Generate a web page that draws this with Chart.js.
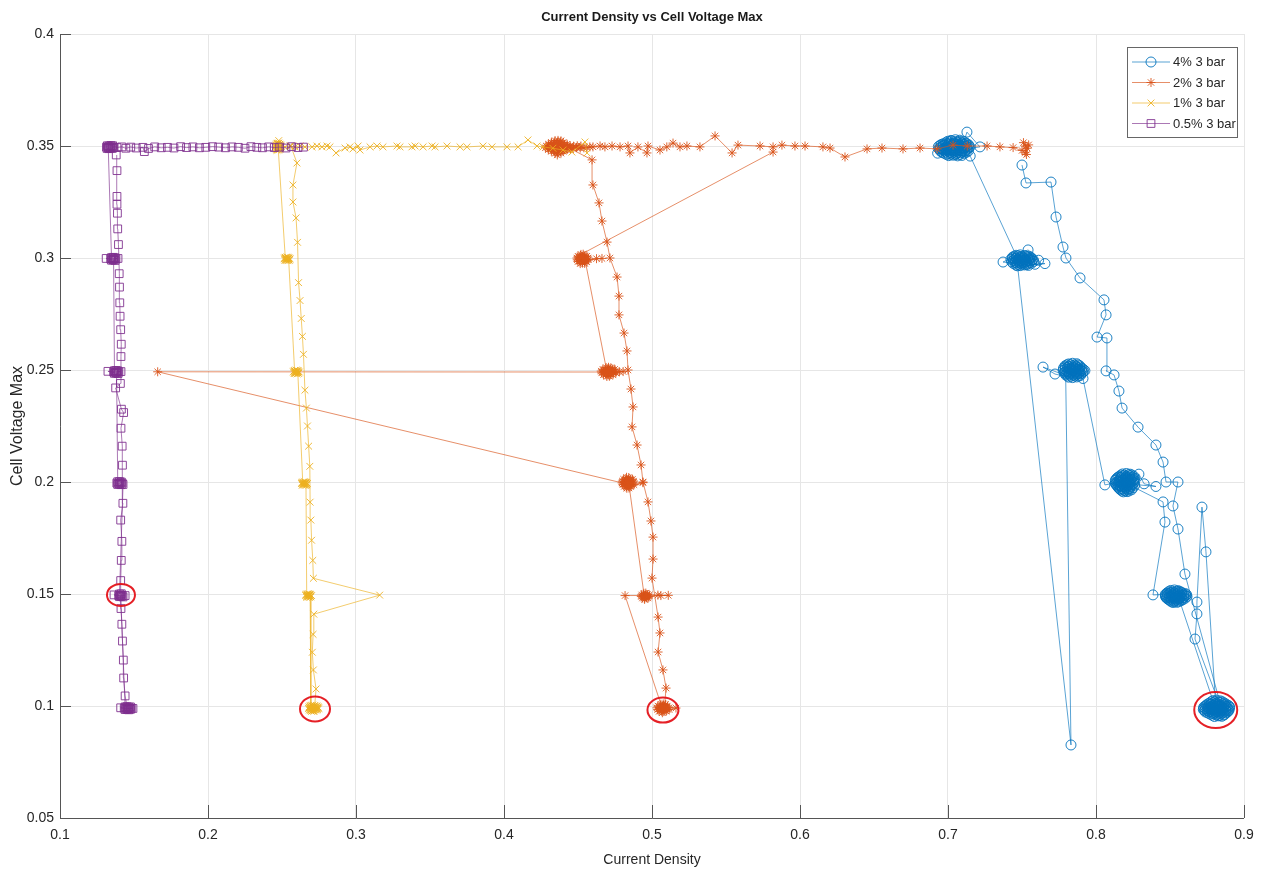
<!DOCTYPE html>
<html>
<head>
<meta charset="utf-8">
<title>Current Density vs Cell Voltage Max</title>
<script src="https://cdn.jsdelivr.net/npm/chart.js@4.4.1/dist/chart.umd.min.js"></script>
<style>
  html, body { margin: 0; padding: 0; background: #ffffff; }
  #wrap { position: relative; width: 1273px; height: 871px; }
</style>
</head>
<body>
<div id="wrap"><canvas id="c" width="1273" height="871"></canvas></div>
<script>
// Each point: [current density, cell voltage max], in the order it was logged.

const seriesLabels = ['4% 3 bar', '2% 3 bar', '1% 3 bar', '0.5% 3 bar'];

const xTickValues = [0.1, 0.2, 0.3, 0.4, 0.5, 0.6, 0.7, 0.8, 0.9];
const xTickLabels = ['0.1', '0.2', '0.3', '0.4', '0.5', '0.6', '0.7', '0.8', '0.9'];
const yTickValues = [0.05, 0.1, 0.15, 0.2, 0.25, 0.3, 0.35, 0.4];
const yTickLabels = ['0.05', '0.1', '0.15', '0.2', '0.25', '0.3', '0.35', '0.4'];

// 4% 3 bar
const run4 = [
  // hold at 0.35
  [0.6985,0.3515],[0.7010,0.3518],[0.7038,0.3514],[0.7066,0.3517],[0.7094,0.3515],[0.7120,0.3513],
  [0.7138,0.3506],[0.7110,0.3508],[0.7083,0.3505],[0.7057,0.3509],[0.7030,0.3506],[0.7005,0.3508],[0.6980,0.3505],[0.6955,0.3507],
  [0.6935,0.3497],[0.6962,0.3499],[0.6990,0.3496],[0.7016,0.3498],[0.7043,0.3495],[0.7070,0.3498],[0.7097,0.3496],[0.7125,0.3499],[0.7148,0.3496],
  [0.7132,0.3487],[0.7104,0.3489],[0.7077,0.3486],[0.7050,0.3488],[0.7022,0.3485],[0.6995,0.3488],[0.6968,0.3486],[0.6940,0.3488],
  [0.6950,0.3477],[0.6977,0.3479],[0.7004,0.3476],[0.7031,0.3478],[0.7058,0.3475],[0.7085,0.3478],[0.7112,0.3476],[0.7138,0.3478],
  [0.7110,0.3467],[0.7083,0.3469],[0.7055,0.3466],[0.7028,0.3468],[0.7000,0.3465],[0.6972,0.3468],
  [0.7005,0.3457],[0.7035,0.3459],[0.7065,0.3456],[0.7095,0.3458],
  [0.7080,0.3526],[0.7050,0.3528],[0.7020,0.3525],
  [0.6998,0.3521],[0.7024,0.3522],[0.7052,0.3520],[0.7080,0.3521],[0.7107,0.3520],
  [0.7124,0.3511],[0.7096,0.3512],[0.7070,0.3510],[0.7044,0.3512],[0.7018,0.3510],[0.6993,0.3511],[0.6968,0.3510],
  [0.6945,0.3502],[0.6970,0.3503],[0.6997,0.3501],[0.7024,0.3503],[0.7050,0.3501],[0.7077,0.3503],[0.7111,0.3501],[0.7137,0.3502],
  [0.7140,0.3492],[0.7111,0.3493],[0.7084,0.3491],[0.7057,0.3493],[0.7030,0.3491],[0.7003,0.3493],[0.6976,0.3491],[0.6948,0.3492],
  [0.6945,0.3482],[0.6963,0.3483],[0.6990,0.3481],[0.7017,0.3483],[0.7044,0.3481],[0.7071,0.3483],[0.7098,0.3481],[0.7125,0.3482],
  [0.7124,0.3472],[0.7097,0.3473],[0.7069,0.3471],[0.7042,0.3473],[0.7014,0.3471],[0.6986,0.3473],[0.6960,0.3472],
  [0.6990,0.3462],[0.7020,0.3463],[0.7050,0.3461],[0.7080,0.3462],
  [0.7128,0.3562],[0.7216,0.3496],[0.6930,0.3468],[0.7150,0.3455],
  // hold at 0.30
  [0.7460,0.3012],[0.7488,0.3014],[0.7516,0.3011],
  [0.7560,0.3003],[0.7535,0.3005],[0.7510,0.3002],[0.7485,0.3004],[0.7460,0.3001],[0.7435,0.3003],
  [0.7425,0.2994],[0.7450,0.2996],[0.7475,0.2993],[0.7500,0.2995],[0.7525,0.2992],[0.7550,0.2995],[0.7575,0.2993],
  [0.7580,0.2985],[0.7555,0.2987],[0.7530,0.2984],[0.7505,0.2986],[0.7480,0.2983],[0.7455,0.2986],[0.7430,0.2984],
  [0.7440,0.2976],[0.7465,0.2978],[0.7490,0.2975],[0.7515,0.2977],[0.7540,0.2974],[0.7565,0.2977],
  [0.7544,0.2967],[0.7516,0.2969],[0.7488,0.2966],[0.7460,0.2968],
  [0.7447,0.3008],[0.7473,0.3009],[0.7498,0.3007],[0.7523,0.3009],[0.7548,0.3008],
  [0.7563,0.2999],[0.7538,0.3000],[0.7512,0.2998],[0.7487,0.3000],[0.7462,0.2998],[0.7437,0.2999],
  [0.7442,0.2990],[0.7467,0.2991],[0.7492,0.2989],[0.7518,0.2991],[0.7543,0.2989],[0.7568,0.2990],
  [0.7553,0.2980],[0.7528,0.2981],[0.7503,0.2979],[0.7478,0.2981],[0.7452,0.2980],
  [0.7474,0.2971],[0.7502,0.2972],[0.7530,0.2970],
  [0.7372,0.2982],[0.7541,0.3036],[0.7612,0.2990],[0.7588,0.2972],[0.7655,0.2975],[0.7470,0.2965],
  [0.7831,0.0826],
  // hold at 0.25
  [0.7795,0.2478],[0.7820,0.2480],[0.7845,0.2477],[0.7870,0.2479],[0.7895,0.2476],
  [0.7910,0.2488],[0.7885,0.2486],[0.7860,0.2489],[0.7835,0.2487],[0.7810,0.2490],[0.7785,0.2488],
  [0.7778,0.2498],[0.7803,0.2496],[0.7828,0.2499],[0.7853,0.2497],[0.7878,0.2500],[0.7903,0.2498],[0.7925,0.2497],
  [0.7905,0.2508],[0.7880,0.2506],[0.7855,0.2509],[0.7830,0.2507],[0.7805,0.2510],[0.7780,0.2508],
  [0.7790,0.2518],[0.7815,0.2516],[0.7840,0.2519],[0.7865,0.2517],[0.7890,0.2519],
  [0.7870,0.2528],[0.7842,0.2530],[0.7815,0.2527],
  [0.7803,0.2523],[0.7828,0.2524],[0.7855,0.2522],[0.7878,0.2523],
  [0.7893,0.2513],[0.7868,0.2514],[0.7843,0.2512],[0.7818,0.2514],[0.7792,0.2513],
  [0.7790,0.2503],[0.7816,0.2504],[0.7841,0.2502],[0.7866,0.2504],[0.7891,0.2502],[0.7914,0.2503],
  [0.7915,0.2493],[0.7891,0.2494],[0.7866,0.2492],[0.7841,0.2494],[0.7816,0.2492],[0.7792,0.2493],
  [0.7798,0.2483],[0.7822,0.2484],[0.7848,0.2482],[0.7872,0.2484],[0.7898,0.2483],
  [0.7883,0.2473],[0.7858,0.2474],[0.7832,0.2472],[0.7808,0.2473],
  [0.7642,0.2513],[0.7723,0.2482],[0.7815,0.2468],[0.7842,0.2466],[0.7870,0.2469],[0.7912,0.2462],
  // hold at 0.20
  [0.8060,0.1987],
  [0.8130,0.1996],[0.8155,0.1998],[0.8180,0.1995],[0.8205,0.1997],[0.8230,0.1994],[0.8255,0.1997],
  [0.8262,0.1986],[0.8238,0.1988],[0.8213,0.1985],[0.8188,0.1987],[0.8163,0.1984],[0.8138,0.1987],
  [0.8150,0.1976],[0.8175,0.1978],[0.8200,0.1975],[0.8225,0.1977],[0.8250,0.1974],
  [0.8240,0.1965],[0.8215,0.1967],[0.8190,0.1964],[0.8165,0.1966],
  [0.8185,0.1956],[0.8210,0.1957],
  [0.8255,0.2006],[0.8230,0.2008],[0.8205,0.2005],[0.8180,0.2007],[0.8155,0.2004],[0.8130,0.2007],
  [0.8140,0.2016],[0.8165,0.2018],[0.8190,0.2015],[0.8215,0.2017],[0.8240,0.2014],[0.8262,0.2017],
  [0.8255,0.2026],[0.8230,0.2028],[0.8205,0.2025],[0.8180,0.2027],[0.8155,0.2024],
  [0.8180,0.2036],[0.8205,0.2038],[0.8230,0.2035],
  [0.8243,0.2031],[0.8218,0.2032],[0.8193,0.2030],[0.8168,0.2031],
  [0.8148,0.2021],[0.8172,0.2022],[0.8198,0.2020],[0.8222,0.2022],[0.8248,0.2021],
  [0.8258,0.2011],[0.8235,0.2012],[0.8210,0.2010],[0.8185,0.2012],[0.8160,0.2010],[0.8135,0.2011],
  [0.8142,0.2001],[0.8168,0.2002],[0.8193,0.2000],[0.8218,0.2002],[0.8243,0.2001],
  [0.8250,0.1991],[0.8225,0.1992],[0.8200,0.1990],[0.8175,0.1992],[0.8150,0.1990],[0.8133,0.1991],
  [0.8145,0.1981],[0.8162,0.1982],[0.8188,0.1980],[0.8212,0.1982],[0.8238,0.1981],
  [0.8228,0.1970],[0.8203,0.1971],[0.8178,0.1969],[0.8158,0.1970],
  [0.8175,0.1960],[0.8198,0.1961],[0.8222,0.1960],
  [0.8290,0.2035],[0.8325,0.1992],[0.8405,0.1980],[0.8210,0.1992],[0.8453,0.1911],[0.8466,0.1821],
  // hold at 0.15
  [0.8385,0.1496],
  [0.8468,0.1498],[0.8493,0.1500],[0.8518,0.1497],[0.8543,0.1499],[0.8568,0.1496],[0.8593,0.1499],[0.8612,0.1497],
  [0.8615,0.1489],[0.8595,0.1491],[0.8570,0.1488],[0.8545,0.1490],[0.8520,0.1487],[0.8495,0.1490],[0.8470,0.1488],
  [0.8480,0.1480],[0.8505,0.1482],[0.8530,0.1479],[0.8555,0.1481],[0.8580,0.1478],[0.8603,0.1481],
  [0.8575,0.1470],[0.8550,0.1472],[0.8525,0.1469],[0.8500,0.1471],
  [0.8520,0.1462],[0.8545,0.1463],
  [0.8580,0.1507],[0.8555,0.1509],[0.8530,0.1506],[0.8505,0.1508],[0.8480,0.1505],
  [0.8505,0.1516],[0.8530,0.1518],[0.8555,0.1515],
  [0.8568,0.1511],[0.8543,0.1512],[0.8518,0.1510],[0.8492,0.1511],
  [0.8480,0.1502],[0.8505,0.1503],[0.8530,0.1501],[0.8555,0.1503],[0.8580,0.1501],[0.8603,0.1502],
  [0.8605,0.1493],[0.8582,0.1494],[0.8557,0.1492],[0.8532,0.1494],[0.8507,0.1492],[0.8482,0.1494],[0.8470,0.1493],
  [0.8475,0.1484],[0.8492,0.1485],[0.8517,0.1483],[0.8542,0.1485],[0.8567,0.1483],[0.8592,0.1484],
  [0.8588,0.1475],[0.8562,0.1476],[0.8538,0.1474],[0.8512,0.1476],[0.8490,0.1475],
  [0.8508,0.1466],[0.8532,0.1467],[0.8558,0.1465],
  [0.8560,0.1480],
  // hold at 0.10
  [0.8790,0.1024],[0.8815,0.1026],[0.8840,0.1023],
  [0.8865,0.1014],[0.8840,0.1016],[0.8815,0.1013],[0.8790,0.1015],[0.8765,0.1012],
  [0.8745,0.1004],[0.8770,0.1006],[0.8795,0.1003],[0.8820,0.1005],[0.8845,0.1002],[0.8870,0.1005],[0.8893,0.1003],
  [0.8903,0.0994],[0.8878,0.0996],[0.8853,0.0993],[0.8828,0.0995],[0.8803,0.0992],[0.8778,0.0995],[0.8753,0.0993],[0.8728,0.0995],
  [0.8725,0.0984],[0.8750,0.0986],[0.8775,0.0983],[0.8800,0.0985],[0.8825,0.0982],[0.8850,0.0985],[0.8875,0.0983],[0.8900,0.0985],
  [0.8890,0.0974],[0.8865,0.0976],[0.8840,0.0973],[0.8815,0.0975],[0.8790,0.0972],[0.8765,0.0975],[0.8740,0.0973],
  [0.8770,0.0964],[0.8795,0.0966],[0.8820,0.0963],[0.8845,0.0965],[0.8870,0.0962],
  [0.8850,0.0954],[0.8825,0.0956],[0.8800,0.0953],
  [0.8778,0.1019],[0.8803,0.1020],[0.8828,0.1018],[0.8853,0.1019],
  [0.8878,0.1009],[0.8853,0.1010],[0.8828,0.1008],[0.8803,0.1010],[0.8778,0.1008],[0.8755,0.1009],
  [0.8737,0.0999],[0.8762,0.1000],[0.8787,0.0998],[0.8812,0.1000],[0.8837,0.0998],[0.8862,0.1000],[0.8885,0.0998],[0.8900,0.0999],
  [0.8888,0.0989],[0.8865,0.0990],[0.8840,0.0988],[0.8815,0.0990],[0.8790,0.0988],[0.8765,0.0990],[0.8740,0.0988],[0.8728,0.0989],
  [0.8733,0.0979],[0.8755,0.0980],[0.8780,0.0978],[0.8805,0.0980],[0.8830,0.0978],[0.8855,0.0980],[0.8880,0.0978],[0.8897,0.0979],
  [0.8880,0.0969],[0.8858,0.0970],[0.8832,0.0968],[0.8808,0.0970],[0.8782,0.0968],[0.8755,0.0969],
  [0.8785,0.0959],[0.8812,0.0960],[0.8838,0.0958],[0.8862,0.0959],
  [0.8669,0.1299],[0.8682,0.1411],[0.8682,0.1464],[0.8716,0.1888],[0.8743,0.1688],
  [0.8808,0.1010],[0.8790,0.0984],[0.8826,0.0998],[0.8772,0.0995],[0.8850,0.0985],
  // climb back up
  [0.8601,0.1589],[0.8554,0.1790],[0.8520,0.1893],[0.8554,0.2000],[0.8473,0.2000],[0.8453,0.2089],[0.8405,0.2165],[0.8284,0.2245],
  [0.8176,0.2330],[0.8155,0.2406],[0.8122,0.2478],[0.8068,0.2496],[0.8074,0.2643],[0.8007,0.2647],[0.8068,0.2746],[0.8054,0.2813],
  [0.7892,0.2911],[0.7797,0.3000],[0.7777,0.3049],[0.7730,0.3183],[0.7696,0.3339],[0.7527,0.3335],[0.7500,0.3415]
];

// 2% 3 bar
const run2 = [
  [0.5818,0.3473],
  // hold at 0.30
  [0.4520,0.3016],[0.4535,0.3017],
  [0.4560,0.3008],[0.4545,0.3009],[0.4530,0.3007],[0.4515,0.3009],[0.4500,0.3008],
  [0.4493,0.3000],[0.4508,0.3001],[0.4523,0.2999],[0.4538,0.3001],[0.4553,0.2999],[0.4568,0.3000],
  [0.4570,0.2992],[0.4555,0.2993],[0.4540,0.2991],[0.4525,0.2993],[0.4510,0.2991],[0.4495,0.2992],
  [0.4500,0.2984],[0.4515,0.2985],[0.4530,0.2983],[0.4545,0.2985],[0.4560,0.2983],
  [0.4545,0.2976],[0.4530,0.2977],[0.4515,0.2975],
  [0.4625,0.2997],[0.4662,0.2998],[0.4548,0.2990],
  // hold at 0.25
  [0.4690,0.2511],[0.4706,0.2512],[0.4722,0.2510],
  [0.4748,0.2503],[0.4732,0.2504],[0.4716,0.2502],[0.4700,0.2504],[0.4684,0.2502],[0.4668,0.2503],
  [0.4657,0.2495],[0.4673,0.2496],[0.4689,0.2494],[0.4705,0.2496],[0.4721,0.2494],[0.4737,0.2496],[0.4753,0.2495],
  [0.4756,0.2487],[0.4740,0.2488],[0.4724,0.2486],[0.4708,0.2488],[0.4692,0.2486],[0.4676,0.2488],[0.4660,0.2487],
  [0.4672,0.2479],[0.4688,0.2480],[0.4704,0.2478],[0.4720,0.2480],[0.4736,0.2479],
  [0.4712,0.2472],[0.4695,0.2471],
  [0.4780,0.2492],[0.4805,0.2493],[0.4700,0.2491],
  [0.1660,0.2492],
  // hold at 0.20
  [0.4798,0.1996],[0.4813,0.1997],[0.4828,0.1995],[0.4843,0.1997],[0.4858,0.1995],[0.4873,0.1996],
  [0.4875,0.2004],[0.4860,0.2005],[0.4845,0.2003],[0.4830,0.2005],[0.4815,0.2003],[0.4800,0.2004],
  [0.4808,0.2012],[0.4823,0.2013],[0.4838,0.2011],[0.4853,0.2013],[0.4868,0.2012],
  [0.4843,0.2020],[0.4828,0.2021],
  [0.4803,0.1988],[0.4818,0.1989],[0.4833,0.1987],[0.4848,0.1989],[0.4863,0.1987],[0.4878,0.1988],
  [0.4857,0.1980],[0.4842,0.1981],[0.4827,0.1979],[0.4812,0.1980],
  [0.4830,0.1972],[0.4845,0.1973],
  [0.4939,0.1997],[0.4845,0.1985],
  // hold at 0.15
  [0.4945,0.1503],[0.4958,0.1504],
  [0.4982,0.1496],[0.4969,0.1497],[0.4956,0.1495],[0.4943,0.1497],[0.4930,0.1496],
  [0.4928,0.1489],[0.4941,0.1490],[0.4954,0.1488],[0.4967,0.1490],[0.4980,0.1489],
  [0.4974,0.1482],[0.4961,0.1483],[0.4948,0.1481],[0.4935,0.1482],
  [0.4950,0.1476],
  [0.5040,0.1495],[0.5060,0.1493],[0.5110,0.1494],[0.4818,0.1493],
  // hold at 0.10
  [0.5060,0.1008],[0.5076,0.1009],[0.5092,0.1007],
  [0.5104,0.1000],[0.5088,0.1001],[0.5072,0.0999],[0.5056,0.1001],[0.5040,0.1000],
  [0.5034,0.0992],[0.5050,0.0993],[0.5066,0.0991],[0.5082,0.0993],[0.5098,0.0991],[0.5114,0.0992],
  [0.5116,0.0984],[0.5102,0.0985],[0.5086,0.0983],[0.5070,0.0985],[0.5054,0.0983],[0.5038,0.0984],
  [0.5048,0.0976],[0.5064,0.0977],[0.5080,0.0975],[0.5096,0.0977],
  [0.5070,0.0970],
  [0.5162,0.0991],[0.5084,0.0995],
  // climb back up
  [0.5095,0.1080],[0.5074,0.1161],[0.5041,0.1241],[0.5054,0.1326],[0.5041,0.1397],[0.5000,0.1571],[0.5007,0.1656],[0.5007,0.1754],
  [0.4993,0.1826],[0.4973,0.1911],[0.4939,0.2000],[0.4926,0.2076],[0.4899,0.2165],[0.4865,0.2246],[0.4872,0.2335],[0.4858,0.2415],
  [0.4838,0.2500],[0.4831,0.2585],[0.4811,0.2665],[0.4777,0.2746],[0.4777,0.2830],[0.4764,0.2915],[0.4716,0.3000],[0.4696,0.3071],
  [0.4662,0.3165],[0.4642,0.3246],[0.4601,0.3326],[0.4595,0.3438],
  // hold at 0.35
  [0.4345,0.3524],[0.4365,0.3525],[0.4385,0.3523],
  [0.4400,0.3516],[0.4380,0.3517],[0.4360,0.3515],[0.4340,0.3517],[0.4320,0.3516],
  [0.4300,0.3508],[0.4318,0.3509],[0.4336,0.3507],[0.4354,0.3509],[0.4372,0.3507],[0.4390,0.3509],[0.4408,0.3507],[0.4426,0.3508],
  [0.4520,0.3500],[0.4495,0.3501],[0.4470,0.3499],[0.4447,0.3501],[0.4429,0.3499],[0.4411,0.3501],[0.4393,0.3499],[0.4375,0.3501],
  [0.4357,0.3499],[0.4339,0.3501],[0.4321,0.3499],[0.4303,0.3501],[0.4285,0.3500],
  [0.4280,0.3492],[0.4298,0.3493],[0.4316,0.3491],[0.4334,0.3493],[0.4352,0.3491],[0.4370,0.3493],[0.4388,0.3491],[0.4406,0.3493],
  [0.4424,0.3491],[0.4442,0.3493],[0.4465,0.3491],[0.4490,0.3493],[0.4515,0.3491],[0.4540,0.3492],
  [0.4450,0.3484],[0.4426,0.3485],[0.4408,0.3483],[0.4390,0.3485],[0.4372,0.3483],[0.4354,0.3485],[0.4336,0.3483],[0.4318,0.3485],[0.4300,0.3484],
  [0.4320,0.3476],[0.4340,0.3477],[0.4360,0.3475],[0.4380,0.3477],[0.4400,0.3476],
  [0.4385,0.3468],[0.4365,0.3469],[0.4345,0.3467],
  [0.4360,0.3460],[0.4560,0.3493],[0.4580,0.3496],
  // back out along 0.35
  [0.4601,0.3496],[0.4649,0.3500],[0.4682,0.3496],[0.4730,0.3500],[0.4784,0.3496],[0.4838,0.3500],[0.4851,0.3469],[0.4905,0.3496],
  [0.4966,0.3469],[0.4973,0.3500],[0.5054,0.3482],[0.5100,0.3496],[0.5142,0.3513],[0.5189,0.3496],[0.5236,0.3500],[0.5324,0.3496],
  [0.5426,0.3545],[0.5541,0.3469],[0.5581,0.3504],[0.5730,0.3500],[0.5818,0.3496],[0.5878,0.3504],[0.5966,0.3500],[0.6034,0.3500],
  [0.6155,0.3496],[0.6203,0.3491],[0.6304,0.3451],[0.6453,0.3487],[0.6554,0.3491],[0.6696,0.3487],[0.6811,0.3491],[0.6926,0.3487],
  [0.7034,0.3504],[0.7130,0.3500],[0.7264,0.3500],[0.7351,0.3496],[0.7440,0.3493],
  [0.7500,0.3480],[0.7525,0.3500],[0.7510,0.3515],[0.7535,0.3490],[0.7520,0.3470],[0.7545,0.3505],[0.7530,0.3462]
];

// 1% 3 bar
const run1 = [
  [0.4561,0.3469],[0.4547,0.3518],[0.4459,0.3473],[0.4399,0.3482],[0.4330,0.3490],[0.4264,0.3496],[0.4223,0.3500],[0.4162,0.3527],
  [0.4095,0.3496],[0.4020,0.3496],[0.3919,0.3496],[0.3858,0.3500],[0.3750,0.3496],[0.3703,0.3496],[0.3615,0.3500],[0.3534,0.3496],
  [0.3514,0.3500],[0.3453,0.3496],[0.3399,0.3500],[0.3378,0.3496],[0.3297,0.3496],[0.3277,0.3500],[0.3182,0.3496],[0.3142,0.3500],
  [0.3095,0.3496],[0.3027,0.3482],[0.3014,0.3500],[0.2980,0.3487],[0.2959,0.3496],[0.2926,0.3491],[0.2865,0.3469],[0.2824,0.3496],
  [0.2804,0.3500],[0.2770,0.3496],[0.2736,0.3500],[0.2703,0.3496],[0.2655,0.3496],[0.2622,0.3500],[0.2588,0.3496],[0.2554,0.3500],
  [0.2520,0.3496],
  // hold at 0.35
  [0.2468,0.3512],[0.2478,0.3513],
  [0.2490,0.3505],[0.2480,0.3506],[0.2470,0.3504],[0.2460,0.3505],
  [0.2456,0.3497],[0.2466,0.3498],[0.2476,0.3496],[0.2486,0.3498],[0.2496,0.3497],
  [0.2490,0.3489],[0.2480,0.3490],[0.2470,0.3488],[0.2460,0.3489],
  [0.2466,0.3481],[0.2476,0.3482],
  [0.2465,0.3509],[0.2475,0.3510],[0.2485,0.3508],
  [0.2491,0.3501],[0.2481,0.3502],[0.2471,0.3500],[0.2461,0.3501],
  [0.2461,0.3493],[0.2471,0.3494],[0.2481,0.3492],[0.2491,0.3493],
  [0.2485,0.3485],[0.2475,0.3486],[0.2465,0.3484],
  [0.2478,0.3524],[0.2474,0.3494],
  // hold at 0.30
  [0.2522,0.3003],[0.2532,0.3004],[0.2542,0.3002],
  [0.2555,0.2996],[0.2545,0.2997],[0.2535,0.2995],[0.2525,0.2997],[0.2515,0.2996],
  [0.2520,0.2989],[0.2530,0.2990],[0.2540,0.2988],[0.2550,0.2990],
  [0.2548,0.3000],[0.2538,0.3001],[0.2528,0.2999],[0.2518,0.3000],
  [0.2525,0.2993],[0.2535,0.2994],[0.2545,0.2992],
  // hold at 0.25
  [0.2585,0.2498],[0.2595,0.2499],[0.2605,0.2497],
  [0.2617,0.2491],[0.2607,0.2492],[0.2597,0.2490],[0.2587,0.2492],[0.2577,0.2491],
  [0.2582,0.2484],[0.2592,0.2485],[0.2602,0.2483],[0.2612,0.2485],
  [0.2610,0.2495],[0.2600,0.2496],[0.2590,0.2494],[0.2580,0.2495],
  [0.2587,0.2488],[0.2597,0.2489],[0.2607,0.2487],
  // hold at 0.20
  [0.2640,0.2000],[0.2650,0.2001],[0.2660,0.1999],
  [0.2672,0.1993],[0.2662,0.1994],[0.2652,0.1992],[0.2642,0.1994],[0.2632,0.1993],
  [0.2637,0.1986],[0.2647,0.1987],[0.2657,0.1985],[0.2667,0.1987],
  [0.2665,0.1997],[0.2655,0.1998],[0.2645,0.1996],[0.2635,0.1997],
  [0.2642,0.1990],[0.2652,0.1991],[0.2662,0.1989],
  // hold at 0.15
  [0.2667,0.1500],[0.2677,0.1501],[0.2687,0.1499],
  [0.2700,0.1493],[0.2690,0.1494],[0.2680,0.1492],[0.2670,0.1494],[0.2660,0.1493],
  [0.2665,0.1486],[0.2675,0.1487],[0.2685,0.1485],[0.2695,0.1487],
  [0.2692,0.1497],[0.2682,0.1498],[0.2672,0.1496],[0.2662,0.1497],
  [0.2670,0.1490],[0.2680,0.1491],[0.2690,0.1489],
  // hold at 0.10
  [0.2695,0.1003],[0.2707,0.1004],[0.2719,0.1002],
  [0.2743,0.0996],[0.2731,0.0997],[0.2719,0.0995],[0.2707,0.0997],[0.2695,0.0995],[0.2683,0.0996],
  [0.2678,0.0989],[0.2690,0.0990],[0.2702,0.0988],[0.2714,0.0990],[0.2726,0.0988],[0.2738,0.0990],[0.2750,0.0989],
  [0.2733,0.0982],[0.2721,0.0983],[0.2709,0.0981],[0.2697,0.0983],[0.2685,0.0982],
  [0.2700,0.0976],[0.2712,0.0977],
  [0.2737,0.0999],[0.2725,0.1000],[0.2713,0.0998],[0.2701,0.1000],[0.2689,0.0999],
  [0.2684,0.0992],[0.2696,0.0993],[0.2708,0.0991],[0.2720,0.0993],[0.2732,0.0991],[0.2744,0.0992],
  [0.2739,0.0985],[0.2727,0.0986],[0.2715,0.0984],[0.2703,0.0986],[0.2691,0.0985],
  [0.2694,0.0979],[0.2706,0.0980],[0.2718,0.0978],
  // climb back up
  [0.2730,0.1076],[0.2712,0.1161],[0.2705,0.1240],[0.2710,0.1320],[0.2715,0.1410],[0.3160,0.1495],[0.2712,0.1570],[0.2708,0.1650],
  [0.2700,0.1740],[0.2695,0.1830],[0.2690,0.1910],[0.2688,0.2070],[0.2680,0.2160],[0.2672,0.2250],[0.2665,0.2330],[0.2655,0.2410],
  [0.2645,0.2570],[0.2638,0.2650],[0.2630,0.2730],[0.2622,0.2810],[0.2612,0.2890],[0.2605,0.3070],[0.2595,0.3179],[0.2574,0.3250],
  [0.2574,0.3326],[0.2601,0.3424],[0.2560,0.3500]
];

// 0.5% 3 bar
const run05 = [
  [0.2645,0.3495],[0.2608,0.3493],[0.2565,0.3497],[0.2527,0.3491],[0.2484,0.3495],[0.2448,0.3493],[0.2410,0.3496],[0.2368,0.3492],
  [0.2330,0.3494],[0.2290,0.3497],[0.2250,0.3490],[0.2205,0.3494],[0.2162,0.3496],[0.2118,0.3492],[0.2072,0.3495],[0.2030,0.3497],
  [0.1985,0.3494],[0.1942,0.3492],[0.1898,0.3496],[0.1855,0.3493],[0.1815,0.3497],[0.1770,0.3491],[0.1726,0.3494],[0.1684,0.3492],
  [0.1640,0.3496],[0.1598,0.3489],[0.1570,0.3475],[0.1560,0.3494],[0.1515,0.3491],[0.1478,0.3495],[0.1445,0.3490],[0.1418,0.3496],
  [0.1385,0.3493],
  // hold at 0.35
  [0.1356,0.3501],[0.1344,0.3502],[0.1332,0.3500],[0.1320,0.3501],
  [0.1314,0.3495],[0.1326,0.3496],[0.1338,0.3494],[0.1350,0.3496],[0.1362,0.3495],
  [0.1354,0.3489],[0.1342,0.3490],[0.1330,0.3488],[0.1318,0.3489],[0.1326,0.3493],
  // hold at 0.30
  [0.1348,0.3002],[0.1360,0.3003],[0.1372,0.3001],
  [0.1378,0.2996],[0.1366,0.2997],[0.1354,0.2995],[0.1342,0.2996],
  [0.1348,0.2990],[0.1360,0.2991],[0.1372,0.2989],
  [0.1312,0.2998],[0.1392,0.2998],[0.1362,0.2994],
  // hold at 0.25
  [0.1368,0.2497],[0.1380,0.2498],[0.1392,0.2496],
  [0.1398,0.2491],[0.1386,0.2492],[0.1374,0.2490],[0.1362,0.2491],
  [0.1368,0.2485],[0.1380,0.2486],[0.1392,0.2484],
  [0.1324,0.2494],[0.1412,0.2493],[0.1382,0.2490],
  // hold at 0.20
  [0.1390,0.2001],[0.1402,0.2002],[0.1414,0.2000],
  [0.1420,0.1995],[0.1408,0.1996],[0.1396,0.1994],[0.1384,0.1995],
  [0.1390,0.1989],[0.1402,0.1990],[0.1414,0.1988],[0.1426,0.1989],
  // hold at 0.15
  [0.1402,0.1500],[0.1414,0.1501],
  [0.1420,0.1494],[0.1408,0.1495],[0.1396,0.1493],
  [0.1402,0.1488],[0.1414,0.1489],[0.1426,0.1487],
  [0.1365,0.1496],[0.1440,0.1493],[0.1410,0.1494],
  // hold at 0.10
  [0.1440,0.0996],[0.1452,0.0997],[0.1464,0.0995],[0.1476,0.0996],
  [0.1482,0.0990],[0.1470,0.0991],[0.1458,0.0989],[0.1446,0.0991],[0.1434,0.0990],
  [0.1440,0.0984],[0.1452,0.0985],[0.1464,0.0983],[0.1476,0.0985],
  [0.1410,0.0992],[0.1493,0.0989],[0.1455,0.0990],
  // climb back up
  [0.1440,0.1045],[0.1430,0.1125],[0.1428,0.1205],[0.1422,0.1290],[0.1418,0.1365],[0.1412,0.1435],[0.1410,0.1560],[0.1414,0.1650],
  [0.1418,0.1735],[0.1410,0.1830],[0.1425,0.1905],[0.1422,0.2075],[0.1420,0.2160],[0.1412,0.2240],[0.1430,0.2310],[0.1415,0.2325],
  [0.1376,0.2420],[0.1408,0.2440],[0.1412,0.2560],[0.1414,0.2615],[0.1410,0.2680],[0.1406,0.2740],[0.1404,0.2800],[0.1402,0.2870],
  [0.1400,0.2930],[0.1395,0.3060],[0.1390,0.3130],[0.1388,0.3200],[0.1385,0.3240],[0.1385,0.3275],[0.1385,0.3390],[0.1380,0.3460]
];

// Operating points ringed in red
const ringed = [[0.1412,0.1496],[0.2723,0.0987],[0.5074,0.0982],[0.8809,0.0982]];

const toXY = arr => arr.map(([x, y]) => ({ x, y }));
const FONT = '"Liberation Sans", Arial, Helvetica, sans-serif';

function makeSet(label, data, rgb, style, radius, order) {
  return {
    label,
    data: toXY(data),
    showLine: true,
    tension: 0,
    borderWidth: 1,
    borderColor: `rgba(${rgb},0.65)`,
    pointStyle: style,
    pointRadius: radius,
    pointBorderWidth: 1,
    pointBorderColor: `rgba(${rgb},0.88)`,
    pointBackgroundColor: 'rgba(0,0,0,0)',
    order
  };
}

const datasets = [
  makeSet(seriesLabels[0], run4, '0,114,189', 'circle', 5, 3),
  makeSet(seriesLabels[1], run2, '217,83,25', 'star', 4.5, 2),
  makeSet(seriesLabels[2], run1, '237,177,32', 'crossRot', 4.8, 1),
  makeSet(seriesLabels[3], run05, '126,47,142', 'rect', 5.5, 0)
];

// Axis lines with inward tick marks on the left and bottom edges
const axesFrame = {
  id: 'axesFrame',
  beforeDatasetsDraw(chart) {
    const { ctx, chartArea: a, scales: { x, y } } = chart;
    ctx.save();
    ctx.strokeStyle = '#555555';
    ctx.lineWidth = 1;
    ctx.beginPath();
    ctx.moveTo(a.left + 0.5, a.top);
    ctx.lineTo(a.left + 0.5, a.bottom + 0.5);
    ctx.lineTo(a.right, a.bottom + 0.5);
    yTickValues.forEach(v => {
      const py = Math.round(y.getPixelForValue(v)) + 0.5;
      ctx.moveTo(a.left, py);
      ctx.lineTo(a.left + 11, py);
    });
    xTickValues.forEach(v => {
      const px = Math.round(x.getPixelForValue(v)) + 0.5;
      ctx.moveTo(px, a.bottom);
      ctx.lineTo(px, a.bottom - 13);
    });
    ctx.stroke();
    ctx.restore();
  }
};

// Title, axis titles, legend box and red rings
const overlay = {
  id: 'overlay',
  afterDraw(chart) {
    const { ctx, chartArea: a, scales: { x, y } } = chart;
    ctx.save();

    // red rings around the marked operating points
    ctx.strokeStyle = 'rgba(228,20,26,0.95)';
    ctx.lineWidth = 2;
    const ringSize = [[14, 11], [15, 12.5], [15.5, 12.5], [21.5, 18]];
    ringed.forEach(([vx, vy], i) => {
      ctx.beginPath();
      ctx.ellipse(x.getPixelForValue(vx), y.getPixelForValue(vy), ringSize[i][0], ringSize[i][1], 0, 0, Math.PI * 2);
      ctx.stroke();
    });

    // titles
    ctx.fillStyle = '#1a1a1a';
    ctx.textAlign = 'center';
    ctx.textBaseline = 'middle';
    ctx.font = 'bold 13px ' + FONT;
    ctx.fillText('Current Density vs Cell Voltage Max', (a.left + a.right) / 2, 17);
    ctx.fillStyle = '#262626';
    ctx.font = '14px ' + FONT;
    ctx.fillText('Current Density', (a.left + a.right) / 2, 860);
    ctx.save();
    ctx.translate(18, (a.top + a.bottom) / 2);
    ctx.rotate(-Math.PI / 2);
    ctx.font = '16px ' + FONT;
    ctx.fillText('Cell Voltage Max', 0, 0);
    ctx.restore();

    // legend
    const bx = 1127, by = 47, bw = 110, bh = 90;
    ctx.fillStyle = '#ffffff';
    ctx.fillRect(bx, by, bw, bh);
    ctx.strokeStyle = '#666666';
    ctx.lineWidth = 1;
    ctx.strokeRect(bx + 0.5, by + 0.5, bw, bh);
    chart.data.datasets.forEach((ds, i) => {
      const ly = 62 + i * 20.5;
      ctx.strokeStyle = ds.borderColor;
      ctx.lineWidth = 1;
      ctx.beginPath();
      ctx.moveTo(1132, ly);
      ctx.lineTo(1170, ly);
      ctx.stroke();
      ctx.strokeStyle = ds.pointBorderColor;
      ctx.fillStyle = 'rgba(0,0,0,0)';
      Chart.helpers.drawPoint(ctx, { pointStyle: ds.pointStyle, radius: ds.pointRadius, borderWidth: 1, rotation: 0 }, 1151, ly);
      ctx.fillStyle = '#262626';
      ctx.textAlign = 'left';
      ctx.textBaseline = 'middle';
      ctx.font = '13px ' + FONT;
      ctx.fillText(ds.label, 1173, ly + 0.5);
    });

    ctx.restore();
  }
};

new Chart(document.getElementById('c'), {
  type: 'scatter',
  data: { datasets },
  options: {
    responsive: false,
    animation: false,
    events: [],
    layout: { padding: { top: 34, right: 29, left: 0, bottom: 0 } },
    plugins: {
      legend: { display: false },
      title: { display: false },
      tooltip: { enabled: false }
    },
    scales: {
      x: {
        type: 'linear',
        min: 0.1,
        max: 0.9,
        afterBuildTicks: s => { s.ticks = xTickValues.map(v => ({ value: v })); },
        afterFit: s => { s.height = 53; },
        grid: { color: '#e6e6e6', lineWidth: 1, drawTicks: false },
        border: { display: false },
        ticks: {
          callback: (v, i) => xTickLabels[i],
          color: '#262626',
          font: { family: FONT, size: 14 },
          padding: 9,
          maxRotation: 0,
          autoSkip: false
        }
      },
      y: {
        type: 'linear',
        min: 0.05,
        max: 0.4,
        afterBuildTicks: s => { s.ticks = yTickValues.map(v => ({ value: v })); },
        afterFit: s => { s.width = 60; },
        grid: { color: '#e6e6e6', lineWidth: 1, drawTicks: false },
        border: { display: false },
        ticks: {
          callback: (v, i) => yTickLabels[i],
          color: '#262626',
          font: { family: FONT, size: 14 },
          padding: 6,
          autoSkip: false
        }
      }
    }
  },
  plugins: [axesFrame, overlay]
});
</script>
</body>
</html>
